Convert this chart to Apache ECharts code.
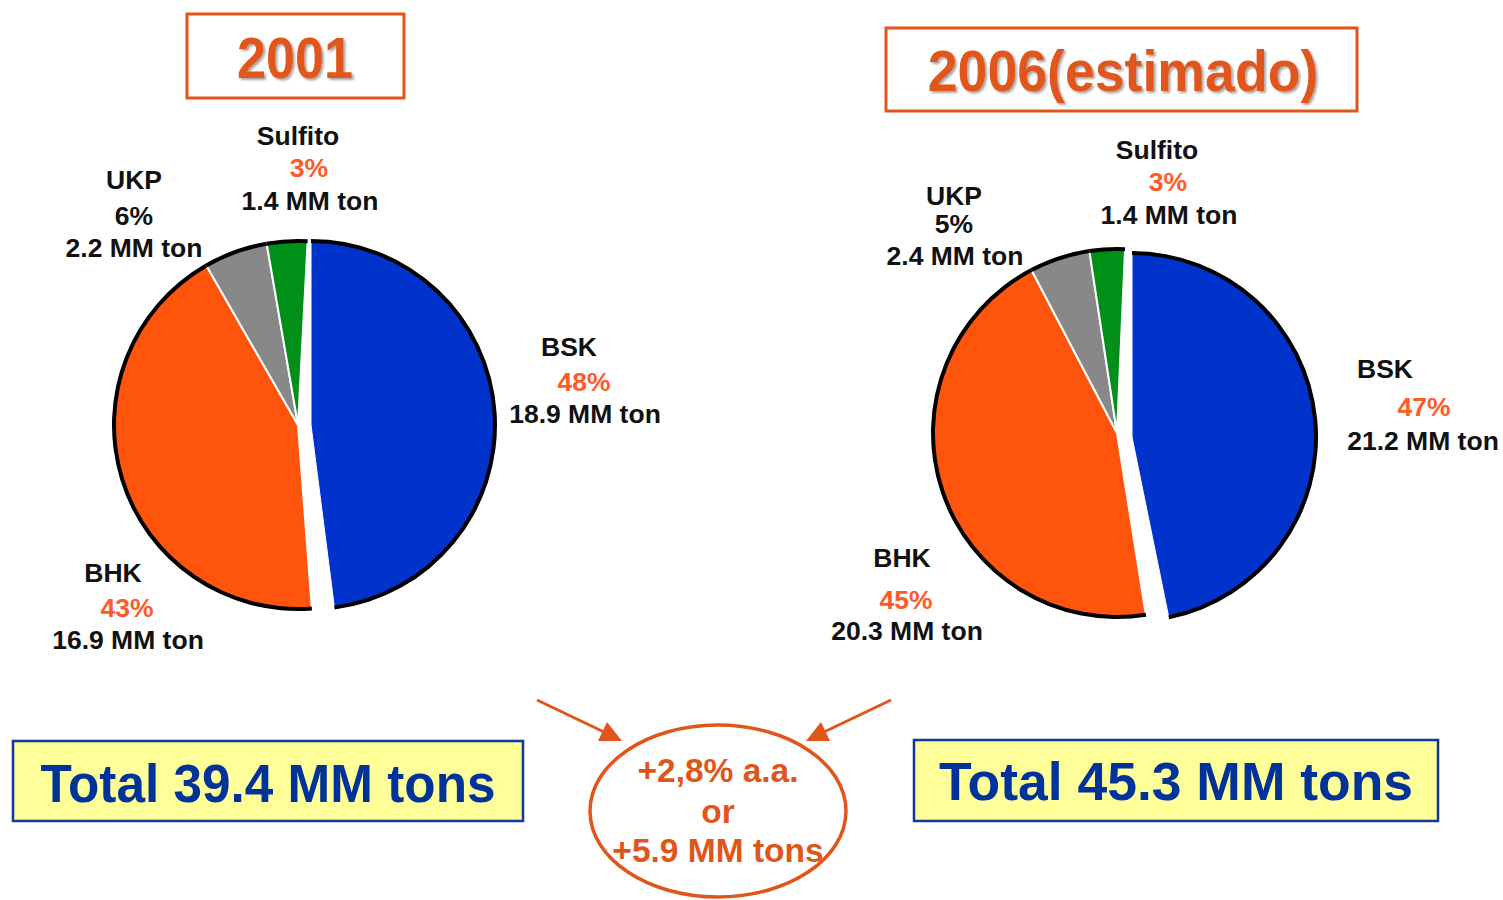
<!DOCTYPE html>
<html>
<head>
<meta charset="utf-8">
<title>Celulose 2001 x 2006</title>
<script src="https://cdn.jsdelivr.net/npm/echarts@6/dist/echarts.min.js"></script>
<style>
  html, body { margin: 0; padding: 0; background: #fff; }
  #chart { width: 1503px; height: 900px; }
</style>
</head>
<body>
<div id="chart"></div>
<script>
// dados (MM ton)
const categories = ['BSK', 'BHK', 'UKP', 'Sulfito']
const values2001 = [18.9, 16.9, 2.2, 1.4]
const values2006 = [21.2, 20.3, 2.4, 1.4]
const pct2001 = ['48%', '43%', '6%', '3%']
const pct2006 = ['47%', '45%', '5%', '3%']
const titles = ['2001', '2006(estimado)']
const totals = ['Total 39.4 MM tons', 'Total 45.3 MM tons']
const growthLines = ['+2,8% a.a.', 'or', '+5.9 MM tons']

// estilo
const sliceColors = ['#0033cc', '#ff540c', '#888888', '#00901a']
const pctColors = ['#ff5a28', '#ff5a28', '#111111', '#ff5a28']
const orange = '#e0561a'
const NONE = 'rgba(0,0,0,0)'
const FONT = '"Liberation Sans", Arial, sans-serif'

// posições dos rótulos: [nome, %, MM ton] para cada categoria
const labelPos2001 = [
  [[569, 347], [584, 382], [585, 414]],
  [[113, 573], [127, 608], [128, 640]],
  [[134, 180], [134, 216], [134, 248]],
  [[298, 136], [309, 168], [310, 201]]
]
const labelPos2006 = [
  [[1385, 369], [1424, 407], [1423, 441]],
  [[902, 558], [906, 600], [907, 631]],
  [[954, 196], [954, 224], [955, 256]],
  [[1157, 150], [1168, 182], [1169, 215]]
]

const chart = echarts.init(document.getElementById('chart'), null, { renderer: 'svg' })

// only: índices visíveis; color: cor fixa (contorno)
function slices(values, only, color) {
  return categories.map((name, i) => {
    const show = only.indexOf(i) >= 0
    return {
      name,
      value: values[i],
      itemStyle: show
        ? { color: color || sliceColors[i] }
        : { color: NONE, borderWidth: 0 }
    }
  })
}

// fatia BSK destacada: desenhada numa série própria com centro deslocado
function pies(values, center, startAngle, bskCenter) {
  const base = {
    type: 'pie',
    clockwise: true,
    silent: true,
    animation: false,
    avoidLabelOverlap: false,
    label: { show: false },
    labelLine: { show: false },
    emphasis: { disabled: true }
  }
  const rest = [1, 2, 3]
  const bsk = [0]
  return [
    Object.assign({}, base, {
      center, startAngle, radius: 184,
      data: slices(values, rest),
      itemStyle: { borderColor: '#fff', borderWidth: 2 }
    }),
    Object.assign({}, base, {
      center, startAngle, radius: [182, 186],
      data: slices(values, rest, '#000'),
      itemStyle: { borderWidth: 0 }
    }),
    Object.assign({}, base, {
      center: bskCenter, startAngle: 90, radius: 184,
      data: slices(values, bsk),
      itemStyle: { borderColor: '#fff', borderWidth: 1 }
    }),
    Object.assign({}, base, {
      center: bskCenter, startAngle: 90, radius: [182, 186],
      data: slices(values, bsk, '#000'),
      itemStyle: { borderWidth: 0 }
    })
  ]
}

function txt(x, y, text, size, color, weight, extra) {
  return Object.assign({
    type: 'text',
    x, y,
    silent: true,
    style: {
      text, x: 0, y: 0,
      fill: color,
      font: (weight || 'bold') + ' ' + size + 'px ' + FONT,
      textAlign: 'center', textVerticalAlign: 'middle',
      align: 'center', verticalAlign: 'middle'
    }
  }, extra || {})
}

function labels(pos, pct, values) {
  const out = []
  categories.forEach((name, i) => {
    out.push(txt(pos[i][0][0], pos[i][0][1], name, 26.5, '#111'))
    out.push(txt(pos[i][1][0], pos[i][1][1], pct[i], 26.5, pctColors[i]))
    out.push(txt(pos[i][2][0], pos[i][2][1], values[i] + ' MM ton', 26.5, '#111'))
  })
  return out
}

function titleText(x, y, text, sx) {
  const t = txt(x, y, text, 58, orange, 'bold', { scaleX: sx })
  Object.assign(t.style, {
    textShadowColor: 'rgba(0,0,0,0.35)', textShadowBlur: 2,
    textShadowOffsetX: 2, textShadowOffsetY: 2
  })
  return t
}

const graphics = [
  // títulos
  { type: 'rect', silent: true, shape: { x: 187, y: 14, width: 217, height: 84 },
    style: { fill: 'none', stroke: orange, lineWidth: 3 } },
  titleText(295, 58, titles[0], 0.9),
  { type: 'rect', silent: true, shape: { x: 886, y: 28, width: 471, height: 83 },
    style: { fill: 'none', stroke: orange, lineWidth: 3 } },
  titleText(1123, 71, titles[1], 0.925),

  // totais
  { type: 'rect', silent: true, shape: { x: 13, y: 741, width: 510, height: 80 },
    style: { fill: '#ffff99', stroke: '#12379c', lineWidth: 2.5 } },
  txt(268, 783, totals[0], 54, '#003399', 'bold', { scaleX: 0.95 }),
  { type: 'rect', silent: true, shape: { x: 914, y: 740, width: 524, height: 81 },
    style: { fill: '#ffff99', stroke: '#12379c', lineWidth: 2.5 } },
  txt(1176, 781, totals[1], 54, '#003399', 'bold', { scaleX: 0.99 }),

  // crescimento
  { type: 'ellipse', silent: true, shape: { cx: 718, cy: 811, rx: 128, ry: 86 },
    style: { fill: 'none', stroke: orange, lineWidth: 3.5 } },
  txt(718, 770, growthLines[0], 33.5, orange),
  txt(718, 811, growthLines[1], 33.5, orange),
  txt(718, 850, growthLines[2], 33.5, orange),

  // setas
  { type: 'line', silent: true, shape: { x1: 537, y1: 700, x2: 604, y2: 732 },
    style: { stroke: orange, lineWidth: 3 } },
  { type: 'polygon', silent: true, shape: { points: [[622, 741], [598, 741], [607, 722]] },
    style: { fill: orange } },
  { type: 'line', silent: true, shape: { x1: 891, y1: 700, x2: 824, y2: 732 },
    style: { stroke: orange, lineWidth: 3 } },
  { type: 'polygon', silent: true, shape: { points: [[806, 741], [830, 741], [821, 722]] },
    style: { fill: orange } }
].concat(labels(labelPos2001, pct2001, values2001), labels(labelPos2006, pct2006, values2006))

const option = {
  backgroundColor: '#fff',
  animation: false,
  series: [].concat(
    pies(values2001, [298, 425], 87, [311, 425]),
    pies(values2006, [1117, 433], 87.5, [1132, 437])
  ),
  graphic: { elements: graphics }
}

chart.setOption(option)
</script>
</body>
</html>
